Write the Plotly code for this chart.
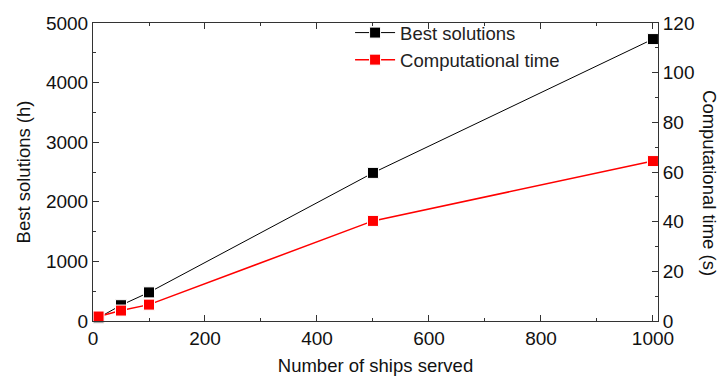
import plotly.graph_objects as go

ships = [10, 50, 100, 500, 1000]
best_solutions = [55, 265, 480, 2485, 4730]
comp_time = [1.8, 4.2, 6.6, 40.3, 64.4]

x_ticks = [0, 200, 400, 600, 800, 1000]
y1_ticks = [0, 1000, 2000, 3000, 4000, 5000]
y2_ticks = [0, 20, 40, 60, 80, 100, 120]

FONT = "Liberation Sans, Arial, sans-serif"
AX = "#333333"
TICKSIZE = 19
TITLESIZE = 18.5

fig = go.Figure()
fig.add_trace(go.Scatter(
    x=ships, y=best_solutions, name="Best solutions", mode="lines+markers",
    line=dict(color="black", width=1),
    marker=dict(symbol="square", size=11, color="black", line=dict(color="white", width=1)),
    cliponaxis=False, yaxis="y"))
fig.add_trace(go.Scatter(
    x=ships, y=comp_time, name="Computational time", mode="lines+markers",
    line=dict(color="red", width=1.5),
    marker=dict(symbol="square", size=11, color="red", line=dict(color="white", width=1)),
    cliponaxis=False, yaxis="y2"))

common = dict(showgrid=False, zeroline=False, showline=True, linecolor=AX, linewidth=1,
              ticks="inside", ticklen=6, tickcolor=AX, automargin=False,
              tickfont=dict(family=FONT, size=TICKSIZE, color="#111"))

fig.update_layout(
    width=719, height=376,
    margin=dict(l=93, r=61, t=23, b=55),
    plot_bgcolor="white", paper_bgcolor="white",
    font=dict(family=FONT, size=TITLESIZE, color="#111"),
    xaxis=dict(range=[0, 1009], tickvals=x_ticks, mirror="ticks",
               minor=dict(ticks="inside", ticklen=3, tickcolor=AX, dtick=100, tick0=0),
               title=dict(text="Number of ships served", font=dict(size=TITLESIZE), standoff=13), **common),
    yaxis=dict(range=[0, 5000], tickvals=y1_ticks,
               minor=dict(ticks="inside", ticklen=3, tickcolor=AX, dtick=500, tick0=0),
               title=dict(text="Best solutions (h)", font=dict(size=TITLESIZE), standoff=10), **common),
    yaxis2=dict(range=[0, 120], tickvals=y2_ticks, overlaying="y", side="right",
                minor=dict(ticks="inside", ticklen=3, tickcolor=AX, dtick=10, tick0=0),
                **common),
    legend=dict(x=0.455, y=1.03, xanchor="left", yanchor="top", bgcolor="rgba(0,0,0,0)",
                font=dict(family=FONT, size=TITLESIZE, color="#222"), tracegroupgap=0, itemwidth=40),
    showlegend=True,
)
fig.add_annotation(text="Computational time (s)", textangle=90, xref="paper", yref="paper",
                   x=1.0, y=0.463, xshift=52, xanchor="center", showarrow=False,
                   font=dict(family=FONT, size=TITLESIZE, color="#111"))

fig.write_html("out.html")
